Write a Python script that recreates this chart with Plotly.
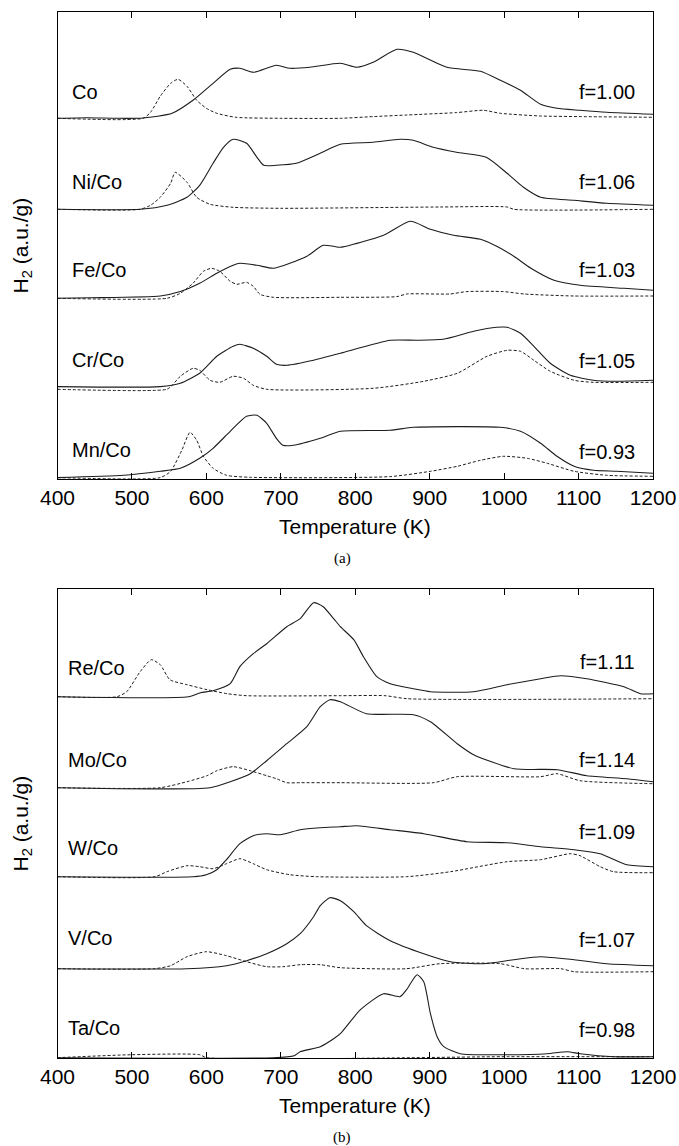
import plotly.graph_objects as go

# ---------------- Panel (a) data: heights above each curve's baseline (a.u.) ----------------
co_T_solid = [400, 440, 480, 515, 554, 582, 609, 632, 645, 663, 694, 712, 739, 780, 802, 824, 856, 878, 923, 968, 995, 1022, 1049, 1071, 1102, 1138, 1200]
co_solid = [0, 0.5, 0, 0.3, 5, 18, 35, 49, 50, 46, 53, 50, 51, 55, 51, 56, 69, 66, 51, 47, 38, 28, 14, 10, 8, 6, 4]
co_T_dash = [400, 515, 525, 538, 552, 562, 574, 587, 600, 614, 640, 700, 780, 824, 869, 936, 972, 995, 1049, 1102, 1200]
co_dash = [0, 0, 6, 22, 35, 39, 32, 18, 10, 5, 1, 0, 0, 1.7, 3.3, 5.7, 8, 5, 2.3, 1.7, 1]

ni_T_solid = [400, 511, 547, 574, 591, 609, 623, 636, 654, 668, 677, 694, 721, 753, 780, 824, 860, 878, 905, 936, 976, 1004, 1026, 1049, 1094, 1138, 1200]
ni_solid = [0, 0, 4, 12, 24, 46, 62, 70, 66, 52, 44, 44, 46, 56, 65, 67, 70, 69, 62, 57, 52, 36, 22, 12, 9, 6, 4]
ni_T_dash = [400, 511, 525, 538, 552, 558, 574, 587, 605, 636, 700, 914, 1004, 1013, 1200]
ni_dash = [0, 0, 4, 12, 26, 37, 27, 12, 5, 2, 1, 2.3, 2.3, 0, 0]

fe_T_solid = [400, 444, 538, 565, 591, 614, 636, 645, 668, 690, 712, 735, 757, 771, 780, 838, 874, 901, 932, 968, 990, 1013, 1036, 1067, 1102, 1161, 1200]
fe_solid = [0, 0.5, 2.3, 6.7, 15, 25, 33, 35, 33, 30, 35, 42, 53, 52, 51, 63, 77, 69, 63, 59, 52, 42, 30, 18, 13, 10, 8]
fe_T_dash = [400, 547, 565, 582, 596, 607, 618, 632, 641, 654, 663, 672, 690, 780, 856, 869, 927, 950, 999, 1027, 1094, 1200]
fe_dash = [0, 0, 5, 15, 27, 30, 27, 17, 14, 16, 12, 4, 1, 1, 1.7, 4.3, 4.3, 6.7, 6.7, 4.3, 2.3, 2.3]

cr_T_solid = [400, 538, 565, 591, 614, 636, 645, 663, 681, 694, 708, 744, 780, 847, 883, 918, 959, 990, 1004, 1022, 1040, 1062, 1089, 1120, 1151, 1200]
cr_solid = [1.7, 1.7, 5, 15, 32, 42, 44, 40, 32, 24, 23, 28, 35, 48, 48, 49, 57, 61, 61, 55, 42, 25, 13, 8, 7, 8]
cr_T_dash = [400, 547, 554, 565, 582, 591, 605, 618, 636, 650, 663, 681, 824, 892, 937, 977, 1004, 1022, 1040, 1062, 1094, 1120, 1200]
cr_dash = [-1, -1, 3, 12, 20, 18, 8, 6, 12, 10, 3, -1, 0, 7, 15, 32, 38, 37, 28, 17, 8, 6, 6]

mn_T_solid = [400, 489, 538, 565, 591, 609, 632, 654, 668, 681, 694, 703, 717, 753, 780, 847, 878, 995, 1022, 1049, 1071, 1094, 1120, 1151, 1200]
mn_solid = [0.7, 3, 7, 10, 20, 30, 47, 62, 63, 55, 40, 33, 33, 40, 47, 48, 51, 51, 47, 35, 22, 12, 8, 7, 5]
mn_T_dash = [400, 538, 552, 567, 578, 587, 596, 609, 627, 659, 847, 901, 937, 968, 999, 1031, 1058, 1094, 1138, 1200]
mn_dash = [0.7, 0.7, 7, 28, 46, 38, 22, 10, 3, 1, 1.7, 7, 12, 18, 22, 20, 15, 7, 3, 2]

# ---------------- Panel (b) data ----------------
re_T_solid = [400, 576, 592, 609, 632, 645, 663, 681, 708, 726, 744, 757, 771, 780, 798, 811, 829, 847, 878, 901, 959, 1004, 1049, 1076, 1111, 1161, 1183, 1200]
re_solid = [0, 0, 4, 6, 13, 30, 43, 53, 70, 78, 94, 90, 78, 70, 57, 40, 20, 13, 8, 5, 5, 12, 18, 21, 18, 10, 3, 3]
re_T_dash = [400, 480, 493, 511, 526, 538, 551, 574, 601, 628, 654, 780, 840, 870, 1200]
re_dash = [0, 0, 5, 25, 37, 32, 17, 12, 7, 3, 1, 1, 1, -2, -2]

mo_T_solid = [400, 605, 632, 659, 681, 708, 735, 753, 766, 780, 815, 878, 901, 937, 959, 1013, 1071, 1111, 1165, 1200]
mo_solid = [0, 0, 6, 14, 27, 44, 61, 81, 88, 86, 74, 73, 66, 44, 33, 19, 18, 12, 9, 6]
mo_T_dash = [400, 538, 574, 601, 614, 636, 659, 681, 694, 708, 726, 780, 905, 937, 1049, 1071, 1102, 1200]
mo_dash = [0, 0, 6, 12, 17, 21, 17, 12, 9, 5, 5, 5, 5, 11, 11, 14, 7, 4]

w_T_solid = [400, 582, 600, 614, 627, 645, 663, 681, 699, 726, 753, 780, 802, 847, 892, 950, 1004, 1049, 1094, 1129, 1165, 1200]
w_solid = [0, 0, 2, 7, 17, 33, 41, 43, 42, 47, 49, 50, 51, 47, 43, 35, 34, 30, 27, 23, 12, 10]
w_T_dash = [400, 531, 547, 574, 591, 609, 627, 645, 663, 681, 712, 748, 869, 928, 1004, 1049, 1089, 1102, 1129, 1147, 1200]
w_dash = [0, 0, 5, 11, 10, 8, 13, 18, 13, 7, 2, 0, 0, 5, 15, 17, 23, 21, 10, 5, 4]

v_T_solid = [400, 574, 627, 654, 681, 708, 726, 744, 753, 766, 780, 798, 815, 847, 892, 928, 972, 1013, 1049, 1094, 1138, 1200]
v_solid = [0, 0, 3, 8, 15, 25, 35, 52, 63, 71, 68, 57, 43, 28, 15, 7, 5, 9, 12, 9, 5, 3]
v_T_dash = [400, 530, 552, 574, 600, 627, 654, 681, 703, 726, 753, 780, 869, 914, 995, 1027, 1076, 1094, 1200]
v_dash = [0, 0, 3, 12, 17, 13, 7, 2, 2, 4, 4, 1, 0, 5, 5, 0, 0, -3, -3]

ta_T_solid = [400, 690, 718, 726, 753, 771, 780, 807, 838, 860, 869, 883, 892, 901, 910, 919, 941, 1004, 1058, 1085, 1102, 1147, 1200]
ta_solid = [0, 0, 2, 6, 11, 19, 24, 48, 64, 61, 68, 83, 76, 44, 21, 11, 4, 3, 4, 6, 4, 1, 1]
ta_T_dash = [400, 500, 591, 600, 1004, 1200]
ta_dash = [0, 3, 3, 0, 1, 1]

names_a = ["Co", "Ni/Co", "Fe/Co", "Cr/Co", "Mn/Co"]
factors_a = ["f=1.00", "f=1.06", "f=1.03", "f=1.05", "f=0.93"]
names_b = ["Re/Co", "Mo/Co", "W/Co", "V/Co", "Ta/Co"]
factors_b = ["f=1.11", "f=1.14", "f=1.09", "f=1.07", "f=0.98"]
x_ticks = [400, 500, 600, 700, 800, 900, 1000, 1100, 1200]

series_a = [(co_T_solid, co_solid, co_T_dash, co_dash),
            (ni_T_solid, ni_solid, ni_T_dash, ni_dash),
            (fe_T_solid, fe_solid, fe_T_dash, fe_dash),
            (cr_T_solid, cr_solid, cr_T_dash, cr_dash),
            (mn_T_solid, mn_solid, mn_T_dash, mn_dash)]
series_b = [(re_T_solid, re_solid, re_T_dash, re_dash),
            (mo_T_solid, mo_solid, mo_T_dash, mo_dash),
            (w_T_solid, w_solid, w_T_dash, w_dash),
            (v_T_solid, v_solid, v_T_dash, v_dash),
            (ta_T_solid, ta_solid, ta_T_dash, ta_dash)]

# vertical stacking offsets (layout)
offsets_a = [360, 269, 180, 90, 0]
offsets_b = [361, 270, 181, 89, 0]
name_y_a = [386, 296, 208, 118, 28]
fact_y_a = [386, 296, 208, 117, 26]
name_y_b = [390, 298, 210, 120, 30]
fact_y_b = [396, 298, 226, 118, 28]

W, H = 679, 1146
FONT = "Liberation Sans, Arial, Helvetica, sans-serif"
LINE = "#1c1c1c"

fig = go.Figure()

def add_panel(series, offsets, xa, ya):
    for (ts, ys, td, yd), off in zip(series, offsets):
        fig.add_trace(go.Scatter(x=ts, y=[v + off for v in ys], mode="lines",
                                 line=dict(color=LINE, width=1.1, shape="spline", smoothing=0.6),
                                 xaxis=xa, yaxis=ya, showlegend=False, hoverinfo="skip"))
        fig.add_trace(go.Scatter(x=td, y=[v + off for v in yd], mode="lines",
                                 line=dict(color=LINE, width=1, dash="3px,2px", shape="spline", smoothing=0.6),
                                 xaxis=xa, yaxis=ya, showlegend=False, hoverinfo="skip"))

add_panel(series_a, offsets_a, "x", "y")
add_panel(series_b, offsets_b, "x2", "y2")

def px_x(p):
    return p / W

def px_y(p):
    return 1 - p / H

xa_common = dict(range=[400, 1200], tickvals=x_ticks, ticks="inside", ticklen=6,
                 tickcolor="black", showline=True, linecolor="black", linewidth=1,
                 mirror="ticks", showgrid=False, zeroline=False, automargin=False,
                 tickfont=dict(family=FONT, size=21, color="black"))
ya_common = dict(showticklabels=False, ticks="", showline=True, linecolor="black",
                 linewidth=1, mirror=True, showgrid=False, zeroline=False, automargin=False)

fig.update_layout(
    width=W, height=H,
    margin=dict(l=0, r=0, t=0, b=0, autoexpand=False),
    paper_bgcolor="white", plot_bgcolor="white",
    xaxis=dict(domain=[px_x(57.5), px_x(653)], anchor="y", **xa_common),
    yaxis=dict(domain=[px_y(479), px_y(12)], anchor="x", range=[-0.7, 466.3], **ya_common),
    xaxis2=dict(domain=[px_x(57.5), px_x(653)], anchor="y2", **xa_common),
    yaxis2=dict(domain=[px_y(1058), px_y(589)], anchor="x2", range=[-0.3, 468.7], **ya_common),
)

ann = []
for nm, y in zip(names_a, name_y_a):
    ann.append(dict(x=417, y=y, xref="x", yref="y", text=nm, showarrow=False,
                    xanchor="left", yanchor="middle", font=dict(family=FONT, size=20, color="black")))
for ft, y in zip(factors_a, fact_y_a):
    ann.append(dict(x=1179, y=y, xref="x", yref="y", text=ft, showarrow=False,
                    xanchor="right", yanchor="middle", font=dict(family=FONT, size=20, color="black")))
for nm, y in zip(names_b, name_y_b):
    ann.append(dict(x=412, y=y, xref="x2", yref="y2", text=nm, showarrow=False,
                    xanchor="left", yanchor="middle", font=dict(family=FONT, size=20, color="black")))
for ft, y in zip(factors_b, fact_y_b):
    ann.append(dict(x=1179, y=y, xref="x2", yref="y2", text=ft, showarrow=False,
                    xanchor="right", yanchor="middle", font=dict(family=FONT, size=20, color="black")))

# axis titles and captions
for top, bot, cap in [(12, 479, "(a)"), (589, 1058, "(b)")]:
    ann.append(dict(x=px_x(355), y=px_y(bot + 47), xref="paper", yref="paper",
                    text="Temperature (K)", showarrow=False, xanchor="center", yanchor="middle",
                    font=dict(family=FONT, size=21, color="black")))
    ann.append(dict(x=px_x(21), y=px_y((top + bot) / 2), xref="paper", yref="paper",
                    text="H<sub>2</sub> (a.u./g)", showarrow=False, textangle=-90,
                    xanchor="center", yanchor="middle",
                    font=dict(family=FONT, size=21, color="black")))
    ann.append(dict(x=px_x(342), y=px_y(bot + 79), xref="paper", yref="paper",
                    text=cap, showarrow=False, xanchor="center", yanchor="middle",
                    font=dict(family="Liberation Serif, DejaVu Serif, serif", size=15, color="black")))

fig.update_layout(annotations=ann)
# remove the default 8px page margin so the figure fills the window exactly
fig.write_html("out.html", config={"displayModeBar": False},
               post_script="document.body.style.margin='0';document.body.style.overflow='hidden';")
